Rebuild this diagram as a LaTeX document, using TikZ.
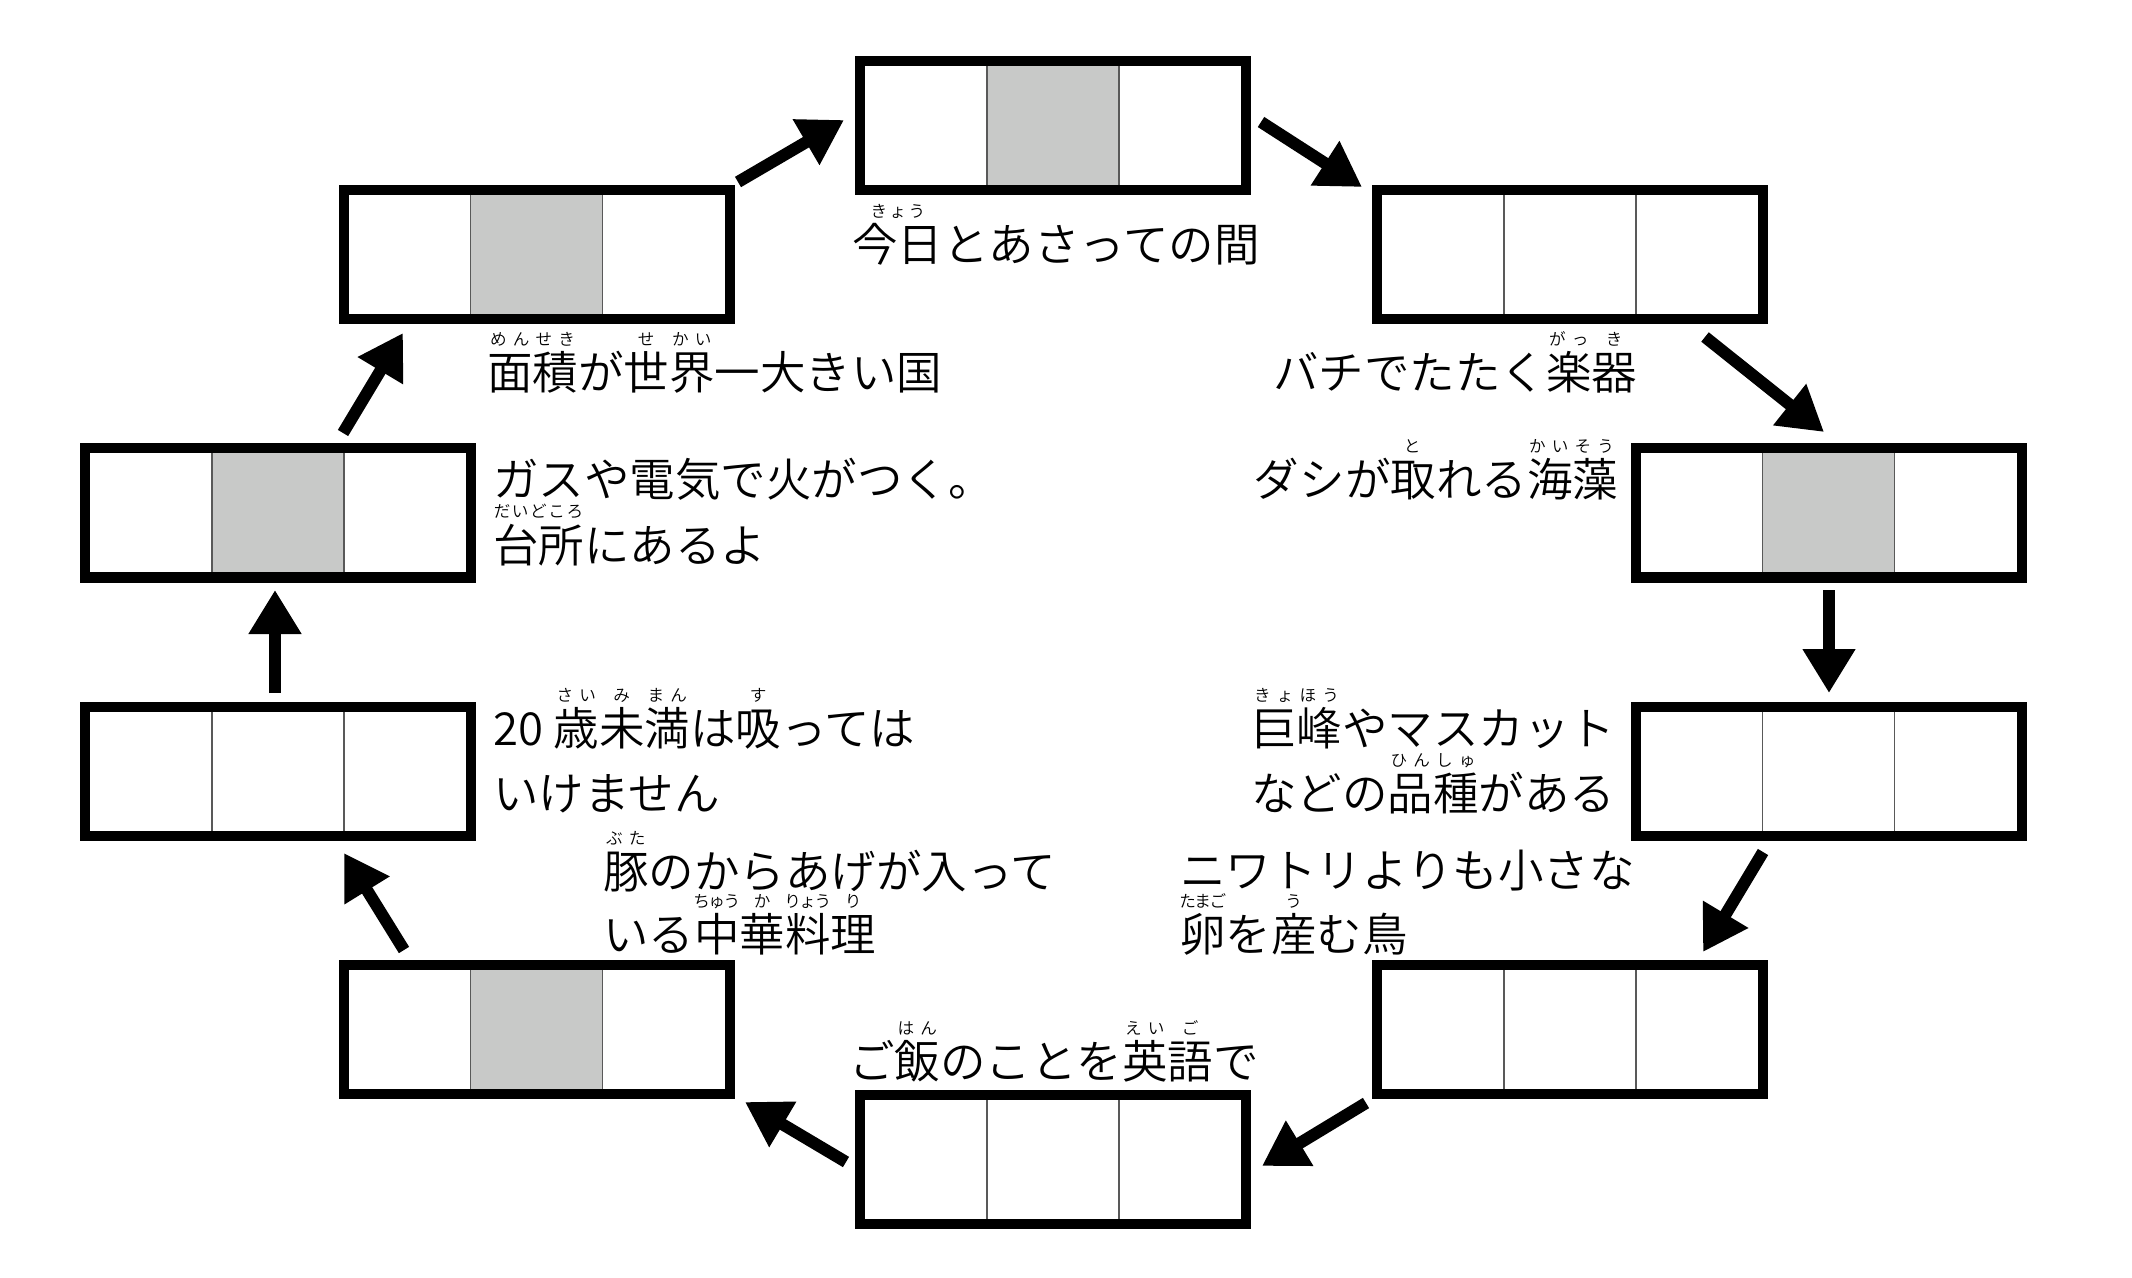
\documentclass[tikz,border=0pt]{standalone}
\usepackage{fontspec}
\IfFontExistsTF{Noto Sans CJK JP DemiLight}{\setmainfont{Noto Sans CJK JP DemiLight}}{%
  \IfFontExistsTF{Noto Sans CJK JP Light}{\setmainfont{Noto Sans CJK JP Light}}{\setmainfont{Noto Sans CJK JP}}}
\usetikzlibrary{arrows.meta}
\definecolor{cellgray}{RGB}{200,201,200}
\newcommand{\rk}[2]{\makebox[#1][c]{#2}}
\newcommand{\cellbox}[4]{%
  \ifnum#4=1 \fill[cellgray] ({#2-66},{#3-64.5}) rectangle ({#2+66},{#3+64.5});\fi
  \draw[divider] ({#2-66},{#3-64.5}) -- ({#2-66},{#3+64.5});
  \draw[divider] ({#2+66},{#3-64.5}) -- ({#2+66},{#3+64.5});
  \node[cbox] (#1) at (#2,#3) {};%
}
\newcommand{\rubyat}[6]{%
  \node[rubytext] (#1) at ({#2+(#4+#5/2)*45.5},{#3-44}) {#6};%
}
\tikzset{
  cbox/.style={rectangle, draw=black, line width=5pt, minimum width=193pt, minimum height=64.5pt, inner sep=0pt, outer sep=0pt},
  divider/.style={draw=black!65, line width=0.8pt},
  flowarrow/.style={line width=6pt, -{Triangle[length=22pt,width=25pt]}},
  qtext/.style={anchor=base west, inner sep=0pt, font=\fontsize{22.75pt}{27pt}\selectfont},
  rubytext/.style={anchor=base, inner sep=0pt, font=\fontsize{8.3pt}{10pt}\selectfont}
}
\begin{document}
\begin{tikzpicture}[x=0.5pt,y=-0.5pt]
\fill[white] (0,0) rectangle (2132,1278);
\useasboundingbox (0,0) rectangle (2132,1278);

% boxes
\cellbox{T}{1053}{125.5}{1}
\cellbox{TR}{1570}{254.5}{0}
\cellbox{R1}{1828.5}{513}{1}
\cellbox{R2}{1828.5}{771.5}{0}
\cellbox{BR}{1570}{1029.5}{0}
\cellbox{B}{1053}{1159.5}{0}
\cellbox{BL}{536.5}{1029.5}{1}
\cellbox{L2}{278}{771.5}{0}
\cellbox{L1}{278}{513}{1}
\cellbox{TL}{536.5}{254.5}{1}

% arrow end points
\coordinate (a1s) at (343,433);  \coordinate (a1e) at (403,333);
\coordinate (a2s) at (738,182);  \coordinate (a2e) at (844,120);
\coordinate (a3s) at (1261,122); \coordinate (a3e) at (1362,187);
\coordinate (a4s) at (1705,337); \coordinate (a4e) at (1824,432);
\coordinate (a5s) at (1829,590); \coordinate (a5e) at (1829,693);
\coordinate (a6s) at (1763,852); \coordinate (a6e) at (1703,952);
\coordinate (a7s) at (1366,1103); \coordinate (a7e) at (1262,1166);
\coordinate (a8s) at (846,1162); \coordinate (a8e) at (745,1102);
\coordinate (a9s) at (404,950);  \coordinate (a9e) at (344,853);
\coordinate (a10s) at (275,693); \coordinate (a10e) at (275,590);
\foreach \i in {1,...,10} {\draw[flowarrow] (a\i s) -- (a\i e);}

% texts
\node[qtext] (t1) at (852,262) {今日とあさっての間};
\node[qtext] (t2) at (487,389.5) {面積が世界一大きい国};
\node[qtext] (t3) at (1273,389.5) {バチでたたく楽器};
\node[qtext] (t4) at (1253,497) {ダシが取れる海藻};
\node[qtext] (t5) at (493,497) {ガスや電気で火がつく。};
\node[qtext] (t6) at (493,562) {台所にあるよ};
\node[qtext] (t7a) at (493,745) {20};
\node[qtext] (t7b) at (553.5,745) {歳未満は吸っては};
\node[qtext] (t8) at (493,810) {いけません};
\node[qtext] (t9) at (603,888) {豚のからあげが入って};
\node[qtext] (t10) at (603,951) {いる中華料理};
\node[qtext] (t11) at (849,1078) {ご飯のことを英語で};
\node[qtext] (t12) at (1251,745) {巨峰やマスカット};
\node[qtext] (t13) at (1251,810) {などの品種がある};
\node[qtext] (t14) at (1180,887) {ニワトリよりも小さな};
\node[qtext] (t15) at (1180,951) {卵を産む鳥};

% furigana
\node[rubytext] (r1) at (898,218) {\rk{9.5pt}{き}\rk{9.5pt}{ょ}\rk{9.5pt}{う}};
\rubyat{r2}{487}{389.5}{0}{1}{\rk{11.375pt}{め}\rk{11.375pt}{ん}}
\rubyat{r3}{487}{389.5}{1}{1}{\rk{11.375pt}{せ}\rk{11.375pt}{き}}
\rubyat{r4}{487}{389.5}{3}{1}{せ}
\rubyat{r5}{487}{389.5}{4}{1}{\rk{11.375pt}{か}\rk{11.375pt}{い}}
\rubyat{r6}{1273}{389.5}{6}{1}{\rk{11.375pt}{が}\rk{11.375pt}{っ}}
\rubyat{r7}{1273}{389.5}{7}{1}{き}
\rubyat{r8}{1253}{497}{3}{1}{と}
\rubyat{r9}{1253}{497}{6}{1}{\rk{11.375pt}{か}\rk{11.375pt}{い}}
\rubyat{r10}{1253}{497}{7}{1}{\rk{11.375pt}{そ}\rk{11.375pt}{う}}
\rubyat{r11}{493}{562}{0}{2}{\rk{9.1pt}{だ}\rk{9.1pt}{い}\rk{9.1pt}{ど}\rk{9.1pt}{こ}\rk{9.1pt}{ろ}}
\rubyat{r12}{553.5}{745}{0}{1}{\rk{11.375pt}{さ}\rk{11.375pt}{い}}
\rubyat{r13}{553.5}{745}{1}{1}{み}
\rubyat{r14}{553.5}{745}{2}{1}{\rk{11.375pt}{ま}\rk{11.375pt}{ん}}
\rubyat{r15}{553.5}{745}{4}{1}{す}
\rubyat{r16}{603}{888}{0}{1}{\rk{11.375pt}{ぶ}\rk{11.375pt}{た}}
\rubyat{r17}{603}{951}{2}{1}{\rk{7.58pt}{ち}\rk{7.58pt}{ゅ}\rk{7.58pt}{う}}
\rubyat{r18}{603}{951}{3}{1}{か}
\rubyat{r19}{603}{951}{4}{1}{\rk{7.58pt}{り}\rk{7.58pt}{ょ}\rk{7.58pt}{う}}
\rubyat{r20}{603}{951}{5}{1}{り}
\rubyat{r21}{849}{1078}{1}{1}{\rk{11.375pt}{は}\rk{11.375pt}{ん}}
\rubyat{r22}{849}{1078}{6}{1}{\rk{11.375pt}{え}\rk{11.375pt}{い}}
\rubyat{r23}{849}{1078}{7}{1}{ご}
\rubyat{r24}{1251}{745}{0}{1}{\rk{11.375pt}{き}\rk{11.375pt}{ょ}}
\rubyat{r25}{1251}{745}{1}{1}{\rk{11.375pt}{ほ}\rk{11.375pt}{う}}
\rubyat{r26}{1251}{810}{3}{1}{\rk{11.375pt}{ひ}\rk{11.375pt}{ん}}
\rubyat{r27}{1251}{810}{4}{1}{\rk{11.375pt}{し}\rk{11.375pt}{ゅ}}
\rubyat{r28}{1180}{951}{0}{1}{\rk{7.58pt}{た}\rk{7.58pt}{ま}\rk{7.58pt}{ご}}
\rubyat{r29}{1180}{951}{2}{1}{う}
\end{tikzpicture}
\end{document}
